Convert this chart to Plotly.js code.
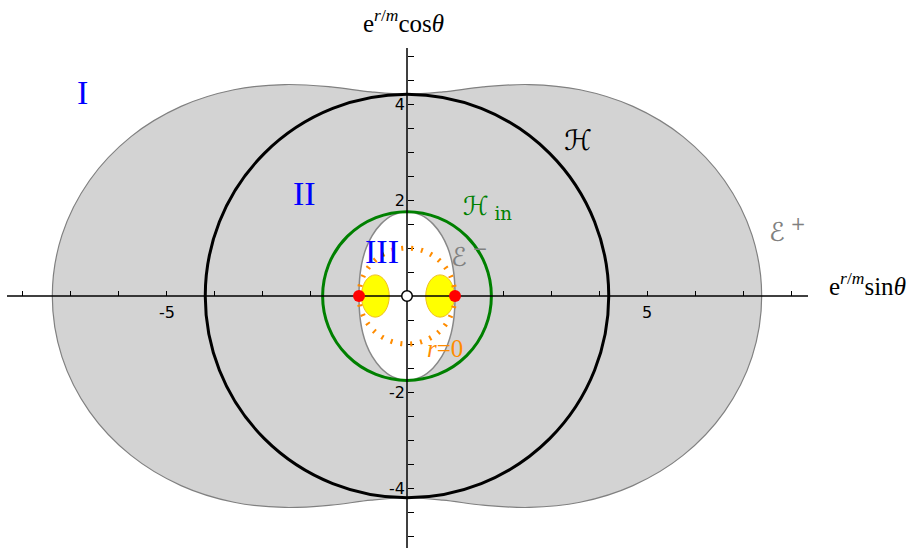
<!DOCTYPE html>
<html><head><meta charset="utf-8">
<script src="https://cdn.plot.ly/plotly-3.0.1.min.js"></script>
<style>html,body{margin:0;padding:0;background:#fff}#chart{width:916px;height:548px}</style>
</head><body><div id="chart"></div>
<script>
// Outer ergosurface E+ (first quadrant), mirrored to other quadrants
const ergoOuterX = [0, 0.750, 1.585, 2.543, 3.605, 4.707, 5.750, 6.614, 7.188, 7.389];
const ergoOuterY = [4.203, 4.253, 4.356, 4.405, 4.297, 3.950, 3.320, 2.407, 1.267, 0];
// Inner ergosurface E- (first quadrant)
const ergoInnerX = [0, 0.297, 0.545, 0.726, 0.847, 0.921, 0.964, 0.987, 0.997, 1.0];
const ergoInnerY = [1.758, 1.685, 1.498, 1.258, 1.009, 0.773, 0.556, 0.359, 0.176, 0];
// Horizons radii
const horizonOuterR = 4.203;
const horizonInnerR = 1.758;
// r = 0 circle radius
const ringR = 1.0;
// Yellow regions: centres and half axes
const yellowCX = [-0.66, 0.69];
const yellowHalfW = [0.29, 0.30];
const yellowHalfH = [0.44, 0.44];
// Red dots (ring singularity) and origin
const redDotX = [-1, 1];
const redDotY = [0, 0];
const originX = [0];
const originY = [0];
// Ticks
const xTickVals = [-5, 5];
const xTickText = ['-5', '5'];
const xMinorTicks = [-8,-7,-6,-4,-3,-2,-1,1,2,3,4,6,7,8];
const yTickVals = [-4, -2, 2, 4];
const yTickText = ['-4', '-2', '2', '4'];
const yMinorTicks = [-5,-4.5,-3.5,-3,-2.5,-1.5,-1,-0.5,0.5,1,1.5,2.5,3,3.5,4.5,5];
// Region labels
const labelText = ['I', 'II', 'III'];
const labelX = [-6.75, -2.13, -0.53];
const labelY = [4.25, 2.14, 0.92];

function closedLoop(qx, qy) {
  const xs = [], ys = [];
  for (let i = 0; i < qx.length; i++) { xs.push(qx[i]); ys.push(qy[i]); }
  for (let i = qx.length - 2; i >= 0; i--) { xs.push(qx[i]); ys.push(-qy[i]); }
  for (let i = 1; i < qx.length; i++) { xs.push(-qx[i]); ys.push(-qy[i]); }
  for (let i = qx.length - 2; i >= 0; i--) { xs.push(-qx[i]); ys.push(qy[i]); }
  return [xs, ys];
}
const outer = closedLoop(ergoOuterX, ergoOuterY);
const inner = closedLoop(ergoInnerX, ergoInnerY);

const xRange = [-8.333, 8.354];
const yRange = [-5.25, 5.167];

const traces = [
  {x: outer[0], y: outer[1], type: 'scatter', mode: 'lines', fill: 'toself',
   fillcolor: '#d3d3d3', line: {color: '#808080', width: 1.2, shape: 'spline'}, hoverinfo: 'skip'},
  {x: inner[0], y: inner[1], type: 'scatter', mode: 'lines', fill: 'toself',
   fillcolor: '#ffffff', line: {color: '#888888', width: 1.5, shape: 'spline'}, hoverinfo: 'skip'}
];

const shapes = [];
for (let i = 0; i < yellowCX.length; i++) {
  shapes.push({type: 'circle', xref: 'x', yref: 'y', layer: 'above',
    x0: yellowCX[i] - yellowHalfW[i], x1: yellowCX[i] + yellowHalfW[i],
    y0: -yellowHalfH[i], y1: yellowHalfH[i],
    fillcolor: '#ffff00', line: {color: '#f0c020', width: 1}});
}
shapes.push({type: 'circle', xref: 'x', yref: 'y', layer: 'above',
  x0: -ringR, x1: ringR, y0: -ringR, y1: ringR,
  line: {color: '#ff8c00', width: 5, dash: '2px,8px'}});
shapes.push({type: 'circle', xref: 'x', yref: 'y', layer: 'above',
  x0: -horizonInnerR, x1: horizonInnerR, y0: -horizonInnerR, y1: horizonInnerR,
  line: {color: '#008000', width: 3}});
shapes.push({type: 'circle', xref: 'x', yref: 'y', layer: 'above',
  x0: -horizonOuterR, x1: horizonOuterR, y0: -horizonOuterR, y1: horizonOuterR,
  line: {color: '#000000', width: 3}});
// axis lines
shapes.push({type: 'line', xref: 'paper', yref: 'y', layer: 'above', x0: 0, x1: 1, y0: 0, y1: 0,
  line: {color: '#000', width: 1.5}});
shapes.push({type: 'line', xref: 'x', yref: 'paper', layer: 'above', x0: 0, x1: 0, y0: 0, y1: 1,
  line: {color: '#000', width: 1.5}});
const dotR = 0.125;
for (let i = 0; i < redDotX.length; i++) {
  shapes.push({type: 'circle', xref: 'x', yref: 'y', layer: 'above',
    x0: redDotX[i] - dotR, x1: redDotX[i] + dotR, y0: redDotY[i] - dotR, y1: redDotY[i] + dotR,
    fillcolor: '#ff0000', line: {color: '#ff0000', width: 0}});
}
const oR = 0.11;
shapes.push({type: 'circle', xref: 'x', yref: 'y', layer: 'above',
  x0: originX[0] - oR, x1: originX[0] + oR, y0: originY[0] - oR, y1: originY[0] + oR,
  fillcolor: '#ffffff', line: {color: '#000', width: 1.5}});

const serif = 'Liberation Serif, DejaVu Serif, serif';
const script = 'DejaVu Serif, DejaVu Sans, serif';
const annotations = [];
for (let i = 0; i < labelText.length; i++) {
  annotations.push({x: labelX[i], y: labelY[i], xref: 'x', yref: 'y', text: labelText[i],
    xanchor: 'center', yanchor: 'middle',
    showarrow: false, font: {family: serif, size: 34, color: '#0000ff'}});
}
annotations.push({x: 3.56, y: 3.25, xref: 'x', yref: 'y', text: 'ℋ', showarrow: false,
  xanchor: 'center', yanchor: 'middle', font: {family: script, size: 28, color: '#000'}});
annotations.push({x: 1.67, y: 1.85, xref: 'x', yref: 'y', text: 'ℋ<sub> in</sub>', showarrow: false,
  xanchor: 'center', yanchor: 'middle', font: {family: script, size: 26, color: '#008000'}});
annotations.push({x: 7.92, y: 1.38, xref: 'x', yref: 'y', text: 'ℰ<sup> +</sup>', showarrow: false,
  xanchor: 'center', yanchor: 'middle', font: {family: script, size: 26, color: '#808080'}});
annotations.push({x: 1.31, y: 0.85, xref: 'x', yref: 'y', text: 'ℰ<sup> −</sup>', showarrow: false,
  xanchor: 'center', yanchor: 'middle', font: {family: script, size: 26, color: '#808080'}});
annotations.push({x: 0.79, y: -1.10, xref: 'x', yref: 'y', text: '<i>r</i>=0', showarrow: false,
  xanchor: 'center', yanchor: 'middle', font: {family: serif, size: 25, color: '#ff8c00'}});
annotations.push({x: 0.4944, y: 1.054, xref: 'paper', yref: 'paper', text: 'e<sup><i>r</i>/<i>m</i></sup>cos<i>θ</i>', showarrow: false,
  xanchor: 'center', yanchor: 'middle', font: {family: serif, size: 25, color: '#000'}});
annotations.push({x: 1.0749, y: 0.528, xref: 'paper', yref: 'paper', text: 'e<sup><i>r</i>/<i>m</i></sup>sin<i>θ</i>', showarrow: false,
  xanchor: 'center', yanchor: 'middle', font: {family: serif, size: 25, color: '#000'}});

const tickFont = {family: 'DejaVu Sans, sans-serif', size: 16, color: '#000'};
const layout = {
  width: 916, height: 548,
  margin: {l: 7, r: 108, t: 48, b: 0, pad: 0},
  paper_bgcolor: '#fff', plot_bgcolor: 'rgba(0,0,0,0)',
  showlegend: false, hovermode: false,
  xaxis: {range: xRange, anchor: 'free', position: (0 - yRange[0]) / (yRange[1] - yRange[0]),
    showline: false, showgrid: false, zeroline: false,
    tickmode: 'array', tickvals: xTickVals, ticktext: xTickText,
    ticks: 'inside', ticklen: 5, tickwidth: 1, tickcolor: '#000', tickfont: tickFont,
    ticklabelstandoff: 5,
    minor: {tickmode: 'array', tickvals: xMinorTicks, ticks: 'inside', ticklen: 5, tickwidth: 1, tickcolor: '#000', showgrid: false},
    fixedrange: true},
  yaxis: {range: yRange, anchor: 'free', position: (0 - xRange[0]) / (xRange[1] - xRange[0]),
    showline: false, showgrid: false, zeroline: false,
    tickmode: 'array', tickvals: yTickVals, ticktext: yTickText,
    ticks: 'inside', ticklen: 6, tickwidth: 1, tickcolor: '#000', tickfont: tickFont,
    ticklabelstandoff: 2,
    minor: {tickmode: 'array', tickvals: yMinorTicks, ticks: 'inside', ticklen: 6, tickwidth: 1, tickcolor: '#000', showgrid: false},
    fixedrange: true},
  shapes: shapes,
  annotations: annotations
};
Plotly.newPlot('chart', traces, layout, {displayModeBar: false, staticPlot: true});
</script></body></html>
